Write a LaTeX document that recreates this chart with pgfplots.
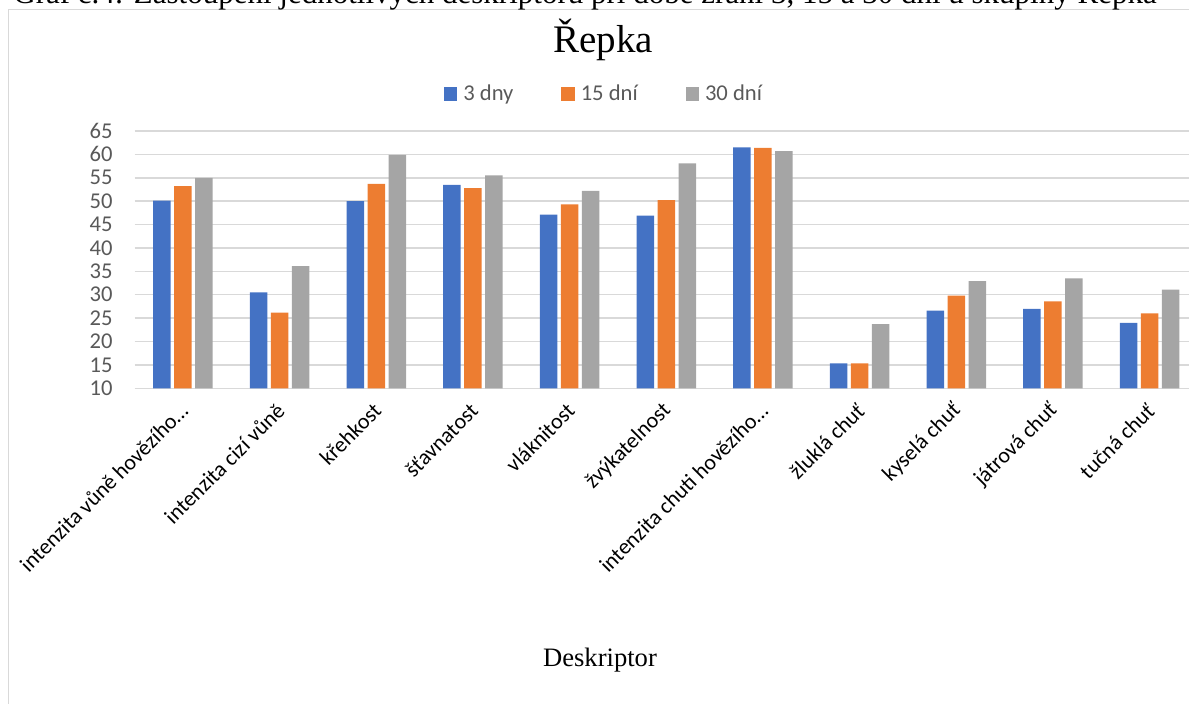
\documentclass[border=0pt]{standalone}
\usepackage{pgfplots}
\pgfplotsset{compat=1.18}
\usepackage{fontspec}
\setmainfont{Liberation Serif}
\newfontfamily\calibri{Carlito}
\definecolor{cblue}{HTML}{4472C4}
\definecolor{corange}{HTML}{ED7D31}
\definecolor{cgray}{HTML}{A5A5A5}
\definecolor{gridgray}{HTML}{D9D9D9}
\definecolor{tickgray}{HTML}{595959}
\begin{document}
\begin{tikzpicture}
\useasboundingbox (0,0) rectangle (594.5pt,352pt);
\clip (0,0) rectangle (594.5pt,352pt);
\draw[color=gridgray, line width=0.75pt] (4.2pt,-2pt) -- (4.2pt,347.2pt) -- (600pt,347.2pt);
\node[anchor=base west, inner sep=0pt, font=\fontsize{15.5}{18}\selectfont] at (6.5pt,350pt) {Graf č.4: Zastoupení jednotlivých deskriptorů při době zrání 3, 15 a 30 dní u skupiny Řepka};
\node[font=\fontsize{19.5}{23}\selectfont] at (301.5pt,332pt) {Řepka};
\node[font=\fontsize{13.3}{16}\selectfont] at (300pt,22pt) {Deskriptor};
\begin{axis}[
  scale only axis,
  width=531.7pt, height=128.65pt,
  at={(67.3pt,157.85pt)}, anchor=south west,
  xmin=-0.5, xmax=10.5, ymin=10, ymax=65,
  ytick={10,15,...,65},
  xtick={0,...,10},
  xticklabels={intenzita vůně hovězího…, intenzita cizí vůně, křehkost, šťavnatost, vláknitost, žvýkatelnost, intenzita chuti hovězího…, žluklá chuť, kyselá chuť, játrová chuť, tučná chuť},
  ybar=1.75pt, bar width=8.75pt,
  axis line style={draw=none},
  major tick length=0pt,
  ymajorgrids, grid style={gridgray, line width=0.75pt},
  /pgf/number format/assume math mode=true,
  yticklabel style={font=\calibri\fontsize{11.3}{13}\selectfont, color=tickgray, xshift=-7.5pt},
  xticklabel style={font=\calibri\fontsize{11}{13}\selectfont, anchor=east, xshift=3pt, yshift=-7pt, rotate=45, color=black},
  legend columns=3,
  legend style={draw=none, fill=none, at={(axis description cs:0.4433,1.1438)}, anchor=center,
    font=\calibri\fontsize{11.3}{13}\selectfont, text=tickgray,
    nodes={inner xsep=3pt},
    /tikz/every even column/.append style={column sep=21pt}},
  legend image code/.code={\fill[#1] (0pt,-3.3pt) rectangle (6.65pt,3.35pt);},
]
\addplot[fill=cblue, draw=none] coordinates {(0,50.1) (1,30.5) (2,50.0) (3,53.5) (4,47.1) (5,46.9) (6,61.5) (7,15.3) (8,26.6) (9,27.0) (10,24.0)};
\addplot[fill=corange, draw=none] coordinates {(0,53.2) (1,26.2) (2,53.7) (3,52.8) (4,49.3) (5,50.2) (6,61.4) (7,15.3) (8,29.8) (9,28.6) (10,26.0)};
\addplot[fill=cgray, draw=none] coordinates {(0,55.0) (1,36.1) (2,59.9) (3,55.5) (4,52.2) (5,58.1) (6,60.7) (7,23.7) (8,32.9) (9,33.5) (10,31.1)};
\legend{3 dny, 15 dní, 30 dní}
\end{axis}
\end{tikzpicture}
\end{document}
